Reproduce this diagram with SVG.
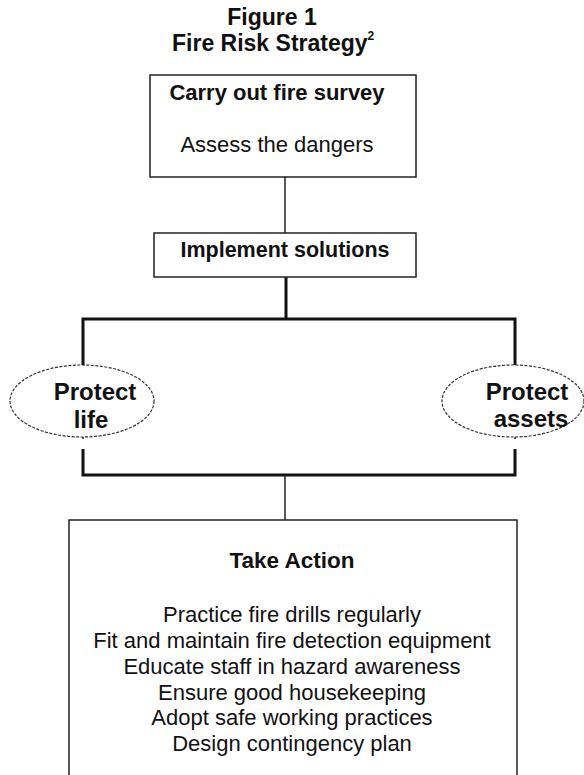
<svg xmlns="http://www.w3.org/2000/svg" width="584" height="775" viewBox="0 0 584 775">
<style>
text{font-family:"Liberation Sans",Arial,sans-serif;fill:#111;text-anchor:middle}
.b{font-weight:bold}
.box{fill:#fff;stroke:#222;stroke-width:1.5}
.ell{fill:#fff;stroke:#333;stroke-width:1.2;stroke-dasharray:3 1.5}
.thin{stroke:#222;stroke-width:1.5;fill:none}
.thick{stroke:#111;stroke-width:3;fill:none}
</style>
<rect width="584" height="775" fill="#fff"/>
<g id="title">
<text class="b" x="272" y="25" font-size="23">Figure 1</text>
<text class="b" x="172" y="51" font-size="23" style="text-anchor:start">Fire Risk Strategy<tspan font-size="12" dy="-11">2</tspan></text>
</g>
<g id="connectors">
<line class="thin" x1="285" y1="177" x2="285" y2="233"/>
<polyline class="thick" points="286,277 286,319"/>
<polyline class="thick" points="83,365 83,319 515,319 515,365"/>
<line class="thin" x1="83" y1="437" x2="83" y2="439"/>
<line class="thin" x1="515" y1="437" x2="515" y2="439"/>
<polyline class="thick" points="83,449 83,475 515,475 515,449"/>
<line class="thin" x1="285" y1="475" x2="285" y2="520"/>
</g>
<g id="survey">
<rect class="box" x="150" y="75" width="266" height="102"/>
<text class="b" x="277" y="100" font-size="22">Carry out fire survey</text>
<text x="277" y="152" font-size="22">Assess the dangers</text>
</g>
<g id="implement">
<rect class="box" x="154" y="233" width="262" height="44"/>
<text class="b" x="285" y="257" font-size="21.5">Implement solutions</text>
</g>
<g id="life">
<ellipse class="ell" cx="82" cy="401" rx="72" ry="36"/>
<text class="b" x="95" y="400" font-size="24">Protect</text>
<text class="b" x="91" y="428" font-size="24">life</text>
</g>
<g id="assets">
<ellipse class="ell" cx="513" cy="401" rx="71" ry="36"/>
<text class="b" x="527" y="400" font-size="24">Protect</text>
<text class="b" x="531" y="427" font-size="24">assets</text>
</g>
<g id="action">
<rect class="box" x="69" y="520" width="448" height="270"/>
<text class="b" x="292" y="568" font-size="22.5">Take Action</text>
<text x="292" y="622" font-size="22">Practice fire drills regularly</text>
<text x="292" y="648" font-size="22">Fit and maintain fire detection equipment</text>
<text x="292" y="674" font-size="22">Educate staff in hazard awareness</text>
<text x="292" y="700" font-size="22">Ensure good housekeeping</text>
<text x="292" y="725" font-size="22">Adopt safe working practices</text>
<text x="292" y="751" font-size="22">Design contingency plan</text>
</g>
</svg>
